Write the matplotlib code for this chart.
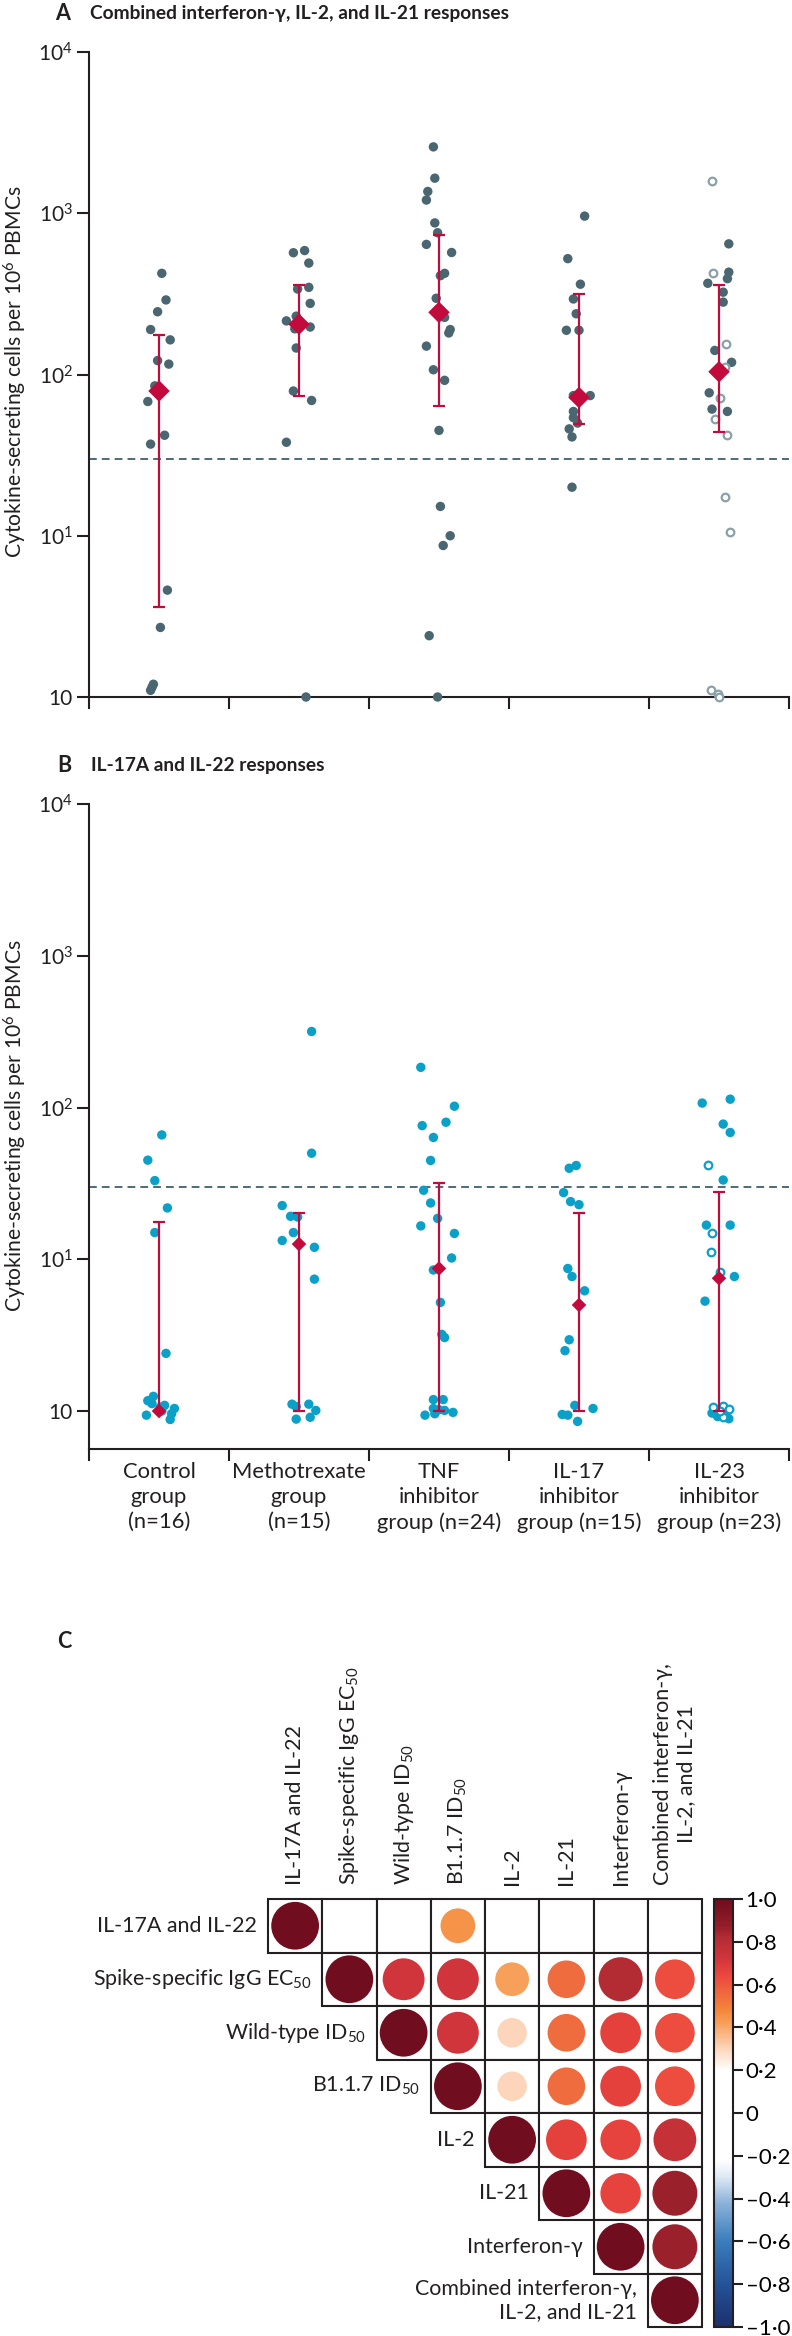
import numpy as np
import matplotlib
matplotlib.use('Agg')
import matplotlib.pyplot as plt
from matplotlib.patches import Rectangle, Ellipse
from matplotlib.colors import LinearSegmentedColormap, Normalize
from matplotlib.ticker import NullLocator
import matplotlib.cm as cm

plt.rcParams['font.family'] = ['Lato', 'DejaVu Sans']
plt.rcParams['mathtext.default'] = 'regular'
plt.rcParams['font.size'] = 15
plt.rcParams['text.color'] = '#231f20'

# ---- data ----
groups = ['Control\ngroup\n(n=16)', 'Methotrexate\ngroup\n(n=15)', 'TNF\ninhibitor\ngroup (n=24)',
          'IL-17\ninhibitor\ngroup (n=15)', 'IL-23\ninhibitor\ngroup (n=23)']
threshold = 30

# panel A: combined interferon-gamma, IL-2, IL-21 (cells per 10^6 PBMCs)
a_values = [
    [424, 290, 245, 190, 164, 122, 116, 85, 68, 42, 37, 4.6, 2.7, 1.2, 1.15, 1.1],
    [587, 569, 491, 347, 339, 276, 230, 215, 197, 192, 146, 79, 69, 38, 1.0],
    [2580, 1650, 1365, 1208, 871, 757, 641, 571, 424, 410, 297, 243, 226, 190, 181, 150,
     107, 92, 45, 15.2, 10, 8.7, 2.4, 1.0],
    [960, 523, 363, 294, 238, 188, 188, 74, 74, 59, 54, 50, 46, 41, 20],
    [646, 431, 393, 368, 324, 281, 141, 119, 77, 61, 59],
]
a_jitter = [
    [0.02, 0.05, -0.01, -0.06, 0.08, -0.01, 0.07, -0.03, -0.08, 0.04, -0.06, 0.06, 0.01, -0.04, -0.05, -0.06],
    [0.04, -0.04, 0.07, 0.07, -0.01, 0.08, -0.02, -0.09, 0.08, -0.03, -0.02, -0.04, 0.09, -0.09, 0.05],
    [-0.04, -0.03, -0.08, -0.09, -0.03, -0.01, -0.09, 0.09, 0.04, 0.01, -0.02, 0.0, 0.04, 0.08, 0.07,
     -0.09, -0.04, 0.04, 0.0, 0.01, 0.08, 0.03, -0.07, -0.01],
    [0.04, -0.08, 0.01, -0.04, -0.02, -0.09, 0.0, 0.08, -0.04, -0.04, -0.04, -0.01, -0.07, -0.05, -0.05],
    [0.07, 0.07, 0.06, -0.08, 0.03, 0.03, -0.03, 0.09, -0.07, -0.05, 0.06],
]
a_open_values = [[], [], [], [], [1590, 424, 154, 111, 71, 53, 42, 17.4, 10.5, 1.1, 1.05, 1.0]]
a_open_jitter = [[], [], [], [], [-0.05, -0.04, 0.05, 0.04, 0.01, -0.03, 0.06, 0.04, 0.08, -0.06, -0.01, 0.0]]
a_median = [79, 205, 243, 72, 104]
a_q1 = [3.6, 74, 63.5, 49, 44]
a_q3 = [177, 357, 733, 314, 357]

# panel B: IL-17A and IL-22
b_values = [
    [66, 45, 33, 21.8, 15, 2.4, 1.17, 1.25, 1.12, 1.09, 1.04, 0.96, 0.94, 0.88, 1.0, 1.06],
    [317, 50, 22.6, 19.2, 19, 15, 13.3, 12, 7.4, 1.11, 1.07, 1.11, 1.01, 0.885, 0.91],
    [184, 102, 80, 76, 63.5, 44.8, 28.5, 23.5, 18.6, 16.6, 14.8, 10.2, 8.5, 5.2, 3.2, 3.05,
     1.19, 1.19, 0.94, 1.04, 0.96, 1.01, 0.98, 1.02],
    [41.5, 39.8, 27.5, 24, 22.9, 8.7, 7.7, 6.2, 2.95, 2.5, 1.09, 1.04, 0.95, 0.94, 0.855],
    [113.5, 107, 77.8, 68.5, 33.3, 16.8, 16.8, 7.7, 5.3, 0.97, 0.92, 0.89, 0.98, 0.95],
]
b_jitter = [
    [0.02, -0.08, -0.03, 0.06, -0.03, 0.05, -0.08, -0.04, -0.05, 0.04, 0.11, 0.09, -0.09, 0.08, 0.02, 0.01],
    [0.09, 0.09, -0.12, -0.06, -0.01, -0.04, -0.12, 0.11, 0.11, -0.05, -0.02, 0.07, 0.12, -0.02, 0.08],
    [-0.13, 0.11, 0.05, -0.12, -0.04, -0.06, -0.11, -0.06, -0.01, -0.13, 0.11, 0.09, -0.04, 0.01, 0.02, 0.04,
     -0.04, 0.03, -0.10, -0.04, -0.03, 0.04, 0.10, 0.0],
    [-0.02, -0.07, -0.11, -0.06, 0.0, -0.08, -0.05, 0.04, -0.07, -0.10, -0.03, 0.10, -0.12, -0.08, -0.01],
    [0.08, -0.12, 0.03, 0.08, 0.03, -0.09, 0.08, 0.11, -0.10, -0.05, -0.01, 0.07, -0.03, 0.05],
]
b_open_values = [[], [], [], [], [42, 14.8, 11.2, 8.3, 1.07, 1.08, 1.03, 0.91, 1.0]]
b_open_jitter = [[], [], [], [], [-0.08, -0.05, -0.06, 0.01, -0.04, 0.03, 0.07, 0.03, 0.01]]
b_median = [1.0, 12.6, 8.7, 5.0, 7.5]
b_q1 = [1.0, 1.0, 1.0, 1.0, 1.0]
b_q3 = [17.5, 20.2, 32, 20.2, 27.9]

# panel C: correlation matrix (upper triangle, blank = not shown)
corr_labels = ['IL-17A and IL-22', 'Spike-specific IgG EC$_{50}$', 'Wild-type ID$_{50}$', 'B1.1.7 ID$_{50}$',
               'IL-2', 'IL-21', 'Interferon-γ', 'Combined interferon-γ,\nIL-2, and IL-21']
nan = np.nan
corr = np.array([
    [1.00, nan, nan, 0.45, nan, nan, nan, nan],
    [nan, 1.00, 0.72, 0.72, 0.42, 0.55, 0.82, 0.63],
    [nan, nan, 1.00, 0.72, 0.30, 0.55, 0.67, 0.63],
    [nan, nan, nan, 1.00, 0.30, 0.55, 0.67, 0.63],
    [nan, nan, nan, nan, 1.00, 0.67, 0.66, 0.76],
    [nan, nan, nan, nan, nan, 1.00, 0.66, 0.86],
    [nan, nan, nan, nan, nan, nan, 1.00, 0.86],
    [nan, nan, nan, nan, nan, nan, nan, 1.00],
])
cbar_ticks = [1.0, 0.8, 0.6, 0.4, 0.2, 0, -0.2, -0.4, -0.6, -0.8, -1.0]

# ---- styling ----
INK = '#231f20'
RED = '#c20a3c'
W, H = 792, 2336


def fbox(x0, y0, x1, y1):
    return [x0 / W, 1 - y1 / H, (x1 - x0) / W, (y1 - y0) / H]


fig = plt.figure(figsize=(W / 100, H / 100), dpi=100)


def strip_panel(ax, vals, jit, ovals, ojit, med, q1, q3, col, ocol, dsize, ylow):
    for g in range(len(groups)):
        ax.scatter(g + np.array(jit[g]), vals[g], s=46, color=col, edgecolors='none', zorder=3,
                   clip_on=False)
        if ovals[g]:
            ax.scatter(g + np.array(ojit[g]), ovals[g], s=30, facecolors='white', edgecolors=ocol,
                       linewidths=1.6, zorder=3, clip_on=False)
    x = np.arange(len(groups))
    med = np.array(med)
    ax.errorbar(x, med, yerr=[med - np.array(q1), np.array(q3) - med], fmt='none', ecolor=RED,
                elinewidth=1.6, capsize=4, capthick=1.6, zorder=4)
    ax.scatter(x, med, marker='D', s=dsize, color=RED, zorder=5, edgecolors='none')
    ax.axhline(threshold, color='#4d6b78', ls=(0, (4, 2.6)), lw=1.4, zorder=2)
    ax.set_yscale('log')
    ax.set_ylim(ylow, 1e4)
    ax.set_xlim(-0.5, len(groups) - 0.5)
    ax.set_yticks([1, 10, 100, 1000, 10000])
    ax.set_yticklabels(['10', '10$^{1}$', '10$^{2}$', '10$^{3}$', '10$^{4}$'], fontsize=15)
    ax.yaxis.set_minor_locator(NullLocator())
    ax.set_xticks(np.arange(len(groups) + 1) - 0.5)
    ax.set_xticklabels([])
    ax.tick_params(axis='both', which='major', length=8.6, width=1.5, color=INK, pad=3, labelcolor=INK)
    for s in ['top', 'right']:
        ax.spines[s].set_visible(False)
    for s in ['left', 'bottom']:
        ax.spines[s].set_linewidth(1.5)
        ax.spines[s].set_color(INK)


# panel A
axA = fig.add_axes(fbox(89, 52, 789, 697))
strip_panel(axA, a_values, a_jitter, a_open_values, a_open_jitter, a_median, a_q1, a_q3,
            '#4a6670', '#8ba0a8', 120, 1)
fig.text(15 / W, 1 - 372 / H, 'Cytokine-secreting cells per 10$^{6}$ PBMCs', rotation=90,
         ha='center', va='center', fontsize=15.2)
fig.text(63 / W, 1 - 14 / H, 'A', fontsize=15.5, fontweight='bold', ha='center', va='center')
fig.text(90 / W, 1 - 14 / H, 'Combined interferon-γ, IL-2, and IL-21 responses', fontsize=13.8,
         fontweight='bold', ha='left', va='center')

# panel B
axB = fig.add_axes(fbox(89, 804, 789, 1449))
strip_panel(axB, b_values, b_jitter, b_open_values, b_open_jitter, b_median, b_q1, b_q3,
            '#0ba0c8', '#0ba0c8', 55, 10 ** -0.25)
fig.text(15 / W, 1 - 1126 / H, 'Cytokine-secreting cells per 10$^{6}$ PBMCs', rotation=90,
         ha='center', va='center', fontsize=15.2)
fig.text(64 / W, 1 - 766 / H, 'B', fontsize=15.5, fontweight='bold', ha='center', va='center')
fig.text(91 / W, 1 - 766 / H, 'IL-17A and IL-22 responses', fontsize=13.8,
         fontweight='bold', ha='left', va='center')
for g, lab in enumerate(groups):
    axB.text(g, -0.02, lab, transform=axB.get_xaxis_transform(), ha='center', va='top',
             fontsize=15.8, linespacing=1.32, multialignment='center')

# panel C
fig.text(64 / W, 1 - 1641 / H, 'C', fontsize=15.5, fontweight='bold', ha='center', va='center')
anchors = [(-1.0, '#1b2f6e'), (-0.8, '#255398'), (-0.6, '#3a7dbd'), (-0.42, '#8cb3d9'),
           (-0.3, '#dde8f3'), (-0.22, '#ffffff'), (0.2, '#ffffff'), (0.3, '#fcd6bc'),
           (0.42, '#f7a05a'), (0.48, '#f4873a'), (0.56, '#ef693e'), (0.65, '#ec463e'),
           (0.72, '#d2363c'), (0.82, '#b32c34'), (0.88, '#931d2a'), (1.0, '#700d1e')]
cmap = LinearSegmentedColormap.from_list('corr', [((v + 1) / 2, c) for v, c in anchors])
norm = Normalize(-1, 1)

n = len(corr_labels)
x0, x1, y0, y1 = 268, 702, 1899, 2327
axC = fig.add_axes(fbox(x0, y0, x1, y1))
axC.set_xlim(0, n)
axC.set_ylim(n, 0)
axC.axis('off')
cw, ch = (x1 - x0) / n, (y1 - y0) / n
for i in range(n):
    for j in range(i, n):
        axC.add_patch(Rectangle((j, i), 1, 1, facecolor='white', edgecolor=INK, lw=1.5, zorder=1,
                                clip_on=False))
        r = corr[i, j]
        if not np.isnan(r):
            d = 0.88 * cw * abs(r) ** 0.4
            axC.add_patch(Ellipse((j + 0.5, i + 0.5), d / cw, d / ch, facecolor=cmap(norm(r)),
                                  edgecolor='none', zorder=2))
    axC.text(i - 0.2, i + 0.5, corr_labels[i], ha='right', va='center', fontsize=15.4,
             multialignment='right', linespacing=1.2)
    axC.text(i + 0.5, -0.26, corr_labels[i], ha='center', va='bottom', rotation=90, fontsize=15.4,
             linespacing=1.2)

cax = fig.add_axes(fbox(714, 1899, 733, 2327))
cb = fig.colorbar(cm.ScalarMappable(norm=norm, cmap=cmap), cax=cax)
cb.set_ticks(cbar_ticks)
cb.set_ticklabels([('0' if t == 0 else f'{t:.1f}'.replace('.', '·').replace('-', '–')) for t in cbar_ticks])
cb.outline.set_linewidth(1.5)
cb.outline.set_edgecolor(INK)
cax.tick_params(length=7, width=1.5, color=INK, labelsize=16, pad=2)

fig.savefig('out.png', dpi=100)
